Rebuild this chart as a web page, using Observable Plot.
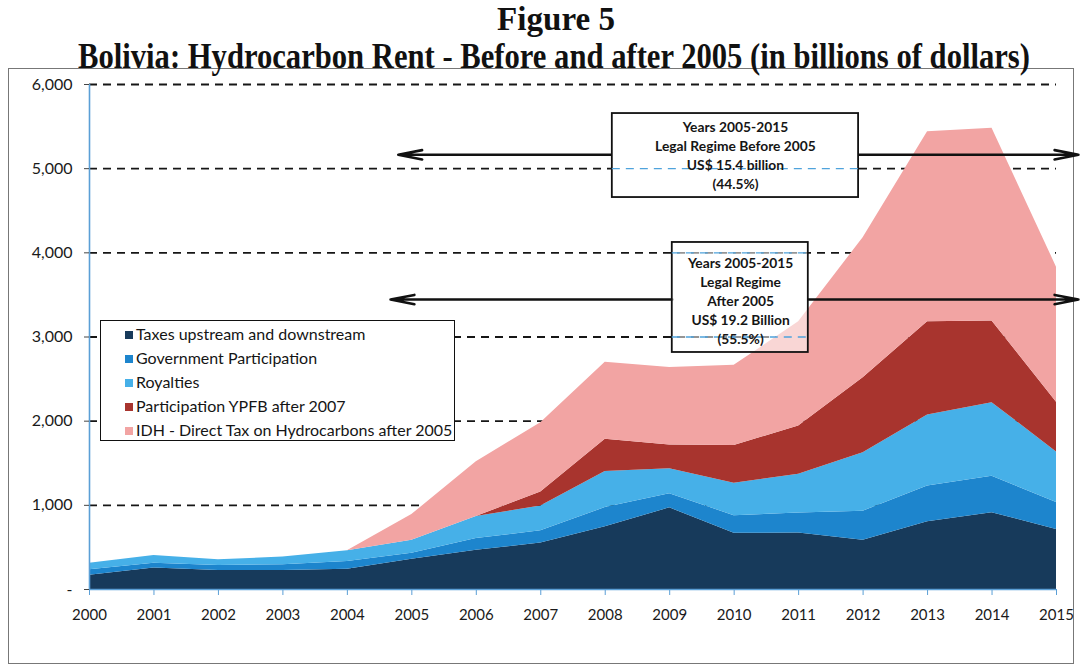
<!DOCTYPE html>
<html>
<head>
<meta charset="utf-8">
<script src="https://cdn.jsdelivr.net/npm/d3@7"></script>
<script src="https://cdn.jsdelivr.net/npm/@observablehq/plot@0.6"></script>
<style>
  html, body { margin: 0; padding: 0; background: #fff; }
  #wrap { position: relative; width: 1080px; height: 670px; overflow: hidden; background: #fff; }
  .title { position: absolute; white-space: nowrap; font-family: "Liberation Serif", "Times New Roman", serif; font-weight: bold; color: #111; transform-origin: 0 0; }
  #frame { position: absolute; left: 8px; top: 68px; width: 1066px; height: 596px; border: 1px solid #777; box-sizing: border-box; }
  #chart { position: absolute; left: 0; top: 68px; }
  #legend { position: absolute; left: 100px; top: 320px; width: 355px; height: 121px; box-sizing: border-box; border: 1.6px solid #111; background: #fff; padding-top: 1px; font-family: Lato, "Open Sans", sans-serif; font-size: 16px; color: #151515; }
  #legend .row { height: 24px; line-height: 24px; padding-left: 24px; white-space: nowrap; }
  #legend .sw { display: inline-block; width: 8px; height: 8px; margin-right: 3px; vertical-align: 1px; }
</style>
</head>
<body>
<div id="wrap">
  <div id="frame"></div>
  <div id="chart"></div>
  <div id="legend"></div>
  <div class="title" id="t1" style="font-size:33px; line-height:33px; top:3px;">Figure 5</div>
  <div class="title" id="t2" style="font-size:35px; line-height:35px; top:39px;">Bolivia: Hydrocarbon Rent - Before and after 2005 (in billions of dollars)</div>
</div>
<script>
// ---- data (values in millions of US$) ----
const years = [2000, 2001, 2002, 2003, 2004, 2005, 2006, 2007, 2008, 2009, 2010, 2011, 2012, 2013, 2014, 2015];
const taxes     = [170, 255, 226, 226, 242, 360, 465, 551, 746, 970, 667, 671, 585, 805, 912, 714];
const govPart   = [65, 58, 60, 68, 91, 70, 140, 147, 227, 167, 210, 239, 345, 425, 434, 320];
const royalties = [78, 92, 67, 91, 127, 155, 262, 294, 428, 298, 385, 460, 695, 843, 874, 601];
const ypfb      = [0, 0, 0, 0, 0, 0, 0, 166, 385, 282, 449, 572, 890, 1107, 970, 591];
const idh       = [0, 0, 0, 0, 0, 305, 651, 822, 913, 920, 952, 1238, 1665, 2260, 2290, 1604];

const seriesNames = [
  "Taxes upstream and downstream",
  "Government Participation",
  "Royalties",
  "Participation YPFB after 2007",
  "IDH - Direct Tax on Hydrocarbons after 2005"
];
const seriesColors = ["#173a5b", "#1d85cd", "#46b0e8", "#a8342e", "#f2a4a3"];
const yTicks = [0, 1000, 2000, 3000, 4000, 5000, 6000];
const gridValues = [1000, 2000, 3000, 4000, 5000, 6000];

const boxBefore = ["Years 2005-2015", "Legal Regime Before 2005", "US$ 15.4 billion", "(44.5%)"];
const boxAfter = ["Years 2005-2015", "Legal Regime", "After 2005", "US$ 19.2 Billion", "(55.5%)"];

// ---- build table ----
const seriesValues = [taxes, govPart, royalties, ypfb, idh];
const rows = [];
seriesNames.forEach((name, i) => {
  years.forEach((yr, j) => rows.push({year: yr, series: name, value: seriesValues[i][j]}));
});

// annotation box extents (in data units)
const b1 = {x1: 2008.11, x2: 2011.93, y1: 4657, y2: 5655, cx: 2010.02, cy: 5165, label: boxBefore.join("\n")};
const b2 = {x1: 2009.04, x2: 2011.15, y1: 2816, y2: 4123, cx: 2010.1, cy: 3440, label: boxAfter.join("\n")};
const arrows = [
  {x1: b1.x1, x2: 2004.79, y1: 5165, y2: 5165},
  {x1: b1.x2, x2: 2015.34, y1: 5165, y2: 5165},
  {x1: b2.x1, x2: 2004.67, y1: 3445, y2: 3445},
  {x1: b2.x2, x2: 2015.34, y1: 3445, y2: 3445}
];

const axisBlue = "#5b9fd6";
const fmt = d3.format(",");

const chart = Plot.plot({
  width: 1080,
  height: 602,
  marginLeft: 89,
  marginRight: 24,
  marginTop: 16,
  marginBottom: 81,
  x: {domain: [2000, 2015]},
  y: {domain: [0, 6000]},
  color: {domain: seriesNames, range: seriesColors},
  style: {fontFamily: "Lato, 'Open Sans', sans-serif", fontSize: "15px", color: "#1a1a1a", background: "transparent", overflow: "visible"},
  marks: [
    Plot.ruleY(gridValues, {stroke: "#161616", strokeDasharray: "8,6", strokeWidth: 1.8}),
    Plot.areaY(rows, {x: "year", y: "value", fill: "series", order: seriesNames}),
    Plot.ruleX([2000], {stroke: axisBlue, strokeWidth: 1.6}),
    Plot.ruleY([0], {stroke: axisBlue, strokeWidth: 1.6}),
    Plot.axisX({ticks: years, tickFormat: d => String(d), tickSize: 6, tickPadding: 14, stroke: axisBlue, fill: "#1a1a1a", label: null, fontSize: 15}),
    Plot.axisY({ticks: yTicks, tickFormat: d => d === 0 ? "-" : fmt(d), tickSize: 5, tickPadding: 12, stroke: "#444", fill: "#1a1a1a", label: null, fontSize: 16}),
    Plot.arrow(arrows, {x1: "x1", y1: "y1", x2: "x2", y2: "y2", stroke: "#111", strokeWidth: 2.6, headLength: 14, headAngle: 22}),
    Plot.rect([b1], {x1: "x1", x2: "x2", y1: "y1", y2: "y2", fill: "#fff", stroke: "#111", strokeWidth: 1.8}),
    Plot.rect([b2], {x1: "x1", x2: "x2", y1: "y1", y2: "y2", fill: "#fff", fillOpacity: 0.55, stroke: "#111", strokeWidth: 1.8}),
    Plot.ruleY([5000], {x1: b1.x1, x2: b1.x2, stroke: "#4fa3dc", strokeDasharray: "8,6", strokeWidth: 1.4}),
    Plot.ruleY([4000, 3000], {x1: b2.x1, x2: b2.x2, stroke: "#4fa3dc", strokeDasharray: "8,6", strokeWidth: 1.4}),
    Plot.text([b1, b2], {x: "cx", y: "cy", text: "label", lineHeight: 1.38, fontWeight: "bold", fontSize: 13.8, fill: "#151515"})
  ]
});
document.getElementById("chart").appendChild(chart);

// legend
const legend = document.getElementById("legend");
seriesNames.forEach((name, i) => {
  const row = document.createElement("div");
  row.className = "row";
  const sw = document.createElement("span");
  sw.className = "sw";
  sw.style.background = seriesColors[i];
  row.appendChild(sw);
  row.appendChild(document.createTextNode(name));
  legend.appendChild(row);
});

// titles: fit to widths seen in the reference
function fit(id, left, width) {
  const el = document.getElementById(id);
  const w = el.getBoundingClientRect().width;
  el.style.left = left + "px";
  el.style.transform = "scaleX(" + (width / w) + ")";
}
fit("t1", 497, 118);
fit("t2", 78, 952);
</script>
</body>
</html>
